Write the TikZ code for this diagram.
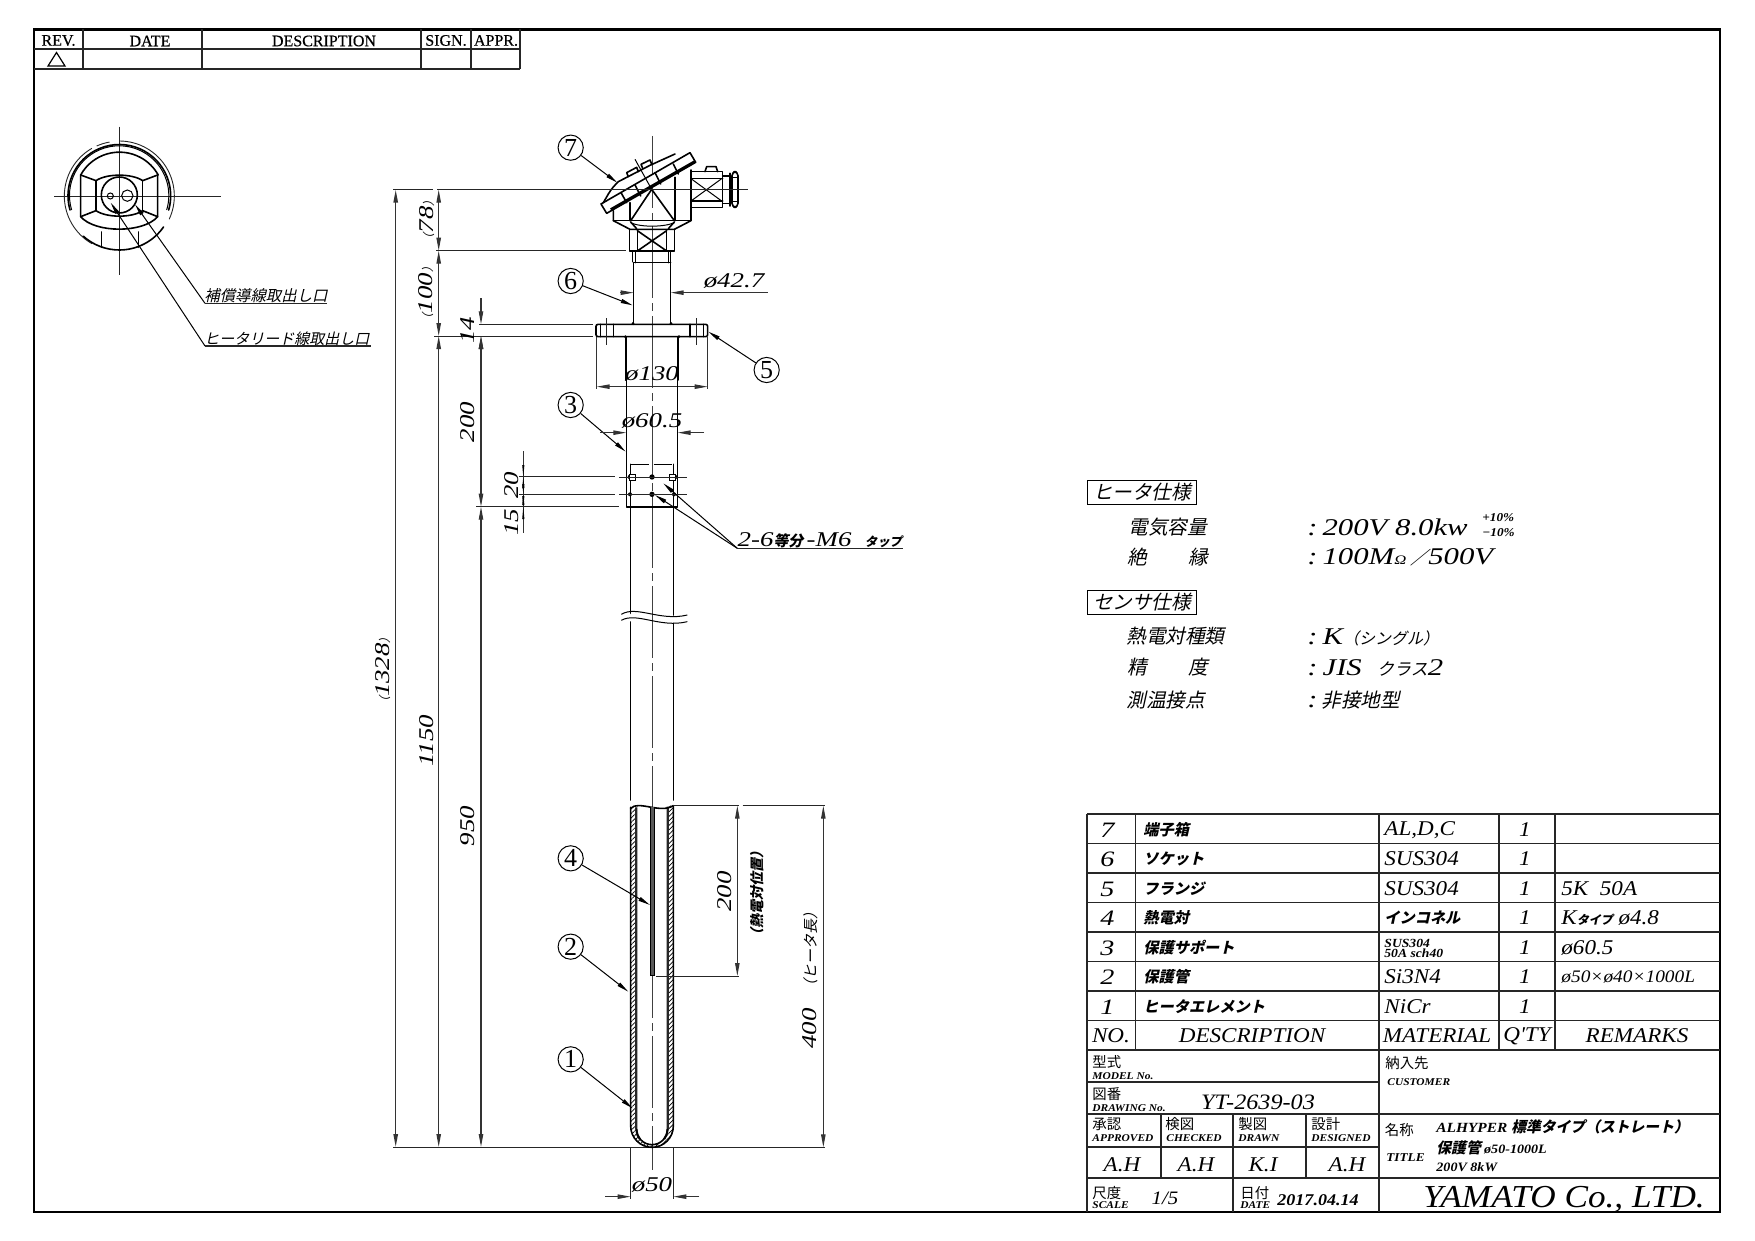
\documentclass[tikz,border=0pt]{standalone}
\usepackage{fontspec}
\usetikzlibrary{arrows.meta,patterns.meta}
\newfontfamily\lat{Liberation Serif}
\newfontfamily\latw[FakeStretch=1.28]{Liberation Serif}
\newfontfamily\latm[FakeStretch=1.1]{Liberation Serif}
\newfontfamily\latb[FakeBold=0.5]{Liberation Serif}
\newfontfamily\cjku{Noto Sans CJK JP}
\newfontfamily\cjk[FakeSlant=0.22]{Noto Sans CJK JP}
\newcommand\fs[1]{\fontsize{#1pt}{#1pt}\selectfont}
\newcommand\dimf{\latw\itshape\fs{10.5}}
\newcommand\tabf{\latm\itshape\fs{10.5}}
\newcommand\jpb{\cjk\bfseries\fs{7.6}}
\newcommand\jps{\cjk\fs{9.8}}
\newcommand\valf{\latw\itshape\fs{12}}
\newcommand\eng{\latm\itshape\bfseries\fs{5.2}}
\newcommand\ups{\cjku\fs{7.2}}
\newcommand\lp{{\cjk\fs{6}（}}
\newcommand\rp{{\cjk\fs{6}）}}
\tikzset{
  x=0.5pt,y=-0.5pt,
  tx/.style={inner sep=0pt,anchor=west},
  ct/.style={inner sep=0pt,anchor=center},
  main/.style={line width=0.8pt,line cap=round,line join=round},
  thin2/.style={line width=0.45pt,draw=black!85},
  frame2/.style={line width=1.2pt},
  grid2/.style={line width=0.9pt,draw=black!85},
  dm/.style={line width=0.55pt,draw=black!80},
  ctr/.style={line width=0.5pt,draw=black!75,dash pattern=on 36pt off 2.5pt on 4pt off 2.5pt},
  tip/.style={-{Stealth[length=6.5pt,width=2.2pt,inset=0pt]}},
  tips/.style={{Stealth[length=6.5pt,width=2.2pt,inset=0pt]}-{Stealth[length=6.5pt,width=2.2pt,inset=0pt]}},
  lead/.style={line width=0.5pt,-{Stealth[length=6pt,width=2pt,inset=0pt]}},
  circnum/.style={circle,draw,line width=0.5pt,inner sep=0pt,minimum size=12.6pt,font=\lat\fs{13}},
}
\begin{document}
\begin{tikzpicture}
\useasboundingbox (0,0) rectangle (1755,1241);
\fill[white] (0,0) rectangle (1755,1241);
% frame
\draw[frame2] (34,29.5) rectangle (1720,1212);
% revision table
\draw[grid2] (34,49) -- (520.3,49) (34,68.7) -- (520.3,68.7) (520.3,29.5) -- (520.3,68.7)
  (82.7,29.5) -- (82.7,68.7) (202.3,29.5) -- (202.3,68.7) (421,29.5) -- (421,68.7) (470.7,29.5) -- (470.7,68.7);
\draw[line width=0.6pt] (48,66) -- (65,66) -- (56.5,52.5) -- cycle;
\node[ct] (rev) at (58.5,40.5) {\latb\fs{8}REV.};
\node[ct] (date) at (150,41) {\latb\fs{8}DATE};
\node[ct] (desc) at (324,41) {\latb\fs{8}DESCRIPTION};
\node[ct] (sign) at (446,40.5) {\latb\fs{8}SIGN.};
\node[ct] (appr) at (496,40.5) {\latb\fs{8}APPR.};

% detail view
\begin{scope}[shift={(20,20)},scale=1/3]
 \draw[thin2] (298,320) -- (298,765) (102,528) -- (604,528);
 \draw[thin2] (298,363) arc[start angle=-90,end angle=25,radius=165];
 \draw[thin2] (230,378) arc[start angle=-114,end angle=-100,radius=165];
 \draw[thin2] (133,528) arc[start angle=180,end angle=240,radius=165];
 \draw[thin2] (133,528) arc[start angle=180,end angle=120,radius=165];
 \draw[main] (298,690) arc[start angle=90,end angle=132,radius=162];
 \draw[main] (298,690) arc[start angle=90,end angle=35,radius=162];
 \draw[main] (150,570) arc[start angle=164,end angle=376,radius=154];
 \draw[line width=0.5pt] (155,570) arc[start angle=163,end angle=377,radius=149];
 \draw[main] (182,465) arc[start angle=209,end angle=331,radius=133];
 \draw[main] (182,465) -- (182,590) .. controls (225,640) and (370,640) .. (413,590) -- (413,465);
 \draw[main] (182,465) -- (228,482) .. controls (260,460) and (336,460) .. (368,482) -- (413,465);
 \draw[main] (182,590) -- (228,572) .. controls (260,594) and (336,594) .. (368,572) -- (413,590);
 \draw[main] (228,482) -- (228,572) (368,482) -- (368,572);
 \draw[main] (245,636) -- (245,682) (355,636) -- (355,682);
 \draw[main] (298,525) circle[radius=54];
 \draw[line width=0.5pt] (271,528) circle[radius=9];
 \draw[line width=0.5pt] (322,527) circle[radius=17];
 \coordinate (lbA) at (555,850); \coordinate (lbB) at (920,850);
 \coordinate (lcA) at (555,978); \coordinate (lcB) at (1052,978);
 \coordinate (tipA) at (345,553); \coordinate (tipB) at (272,548);
 \draw[lead] (lbA) -- (tipA);
 \draw[lead] (lcA) -- (tipB);
 \draw[thin2,line width=0.7pt] (lbA) -- (lbB) (lcA) -- (lcB);
 \node[tx] (lblA) at (552,826) {\cjk\fs{7.7}補償導線取出し口};
 \node[tx] (lblB) at (552,955) {\cjk\fs{7.5}ヒータリード線取出し口};
\end{scope}

% centre line
\draw[ctr] (652,136) -- (652,1170);

% terminal head and upper parts (zoom coordinates)
\begin{scope}[shift={(540,120)},scale=1/3]
 % lid
 \draw[main,fill=white] (183,252) -- (450,98) -- (467,127) -- (200,280) -- cycle;
 \draw[line width=1.1pt] (212,268) -- (464,124);
 \draw[main] (205,222) .. controls (215,205) and (225,195) .. (235,185) -- (330,136) -- (405,102);
 \draw[main] (190,248) -- (205,222);
 \draw[main] (243,218) -- (260,248) (285,195) -- (302,228) (345,158) -- (362,192) (400,132) -- (415,162);
 \draw[main] (260,158) -- (290,142) -- (295,155) (260,158) -- (265,170);
 \draw[main] (303,133) -- (330,120) -- (335,132) (303,133) -- (308,145);
 \draw[line width=0.5pt] (285,118) -- (335,208);
 % body
 \draw[main] (220,272) -- (220,302) -- (270,328) -- (403,328) -- (453,302) -- (453,150);
 \draw[main] (220,302) -- (453,302);
 \draw[main] (405,172) -- (405,302) (270,248) -- (270,302);
 \draw[main] (335,208) -- (272,302) (335,208) -- (403,302);
 \draw[main] (272,306) -- (290,326) (403,306) -- (385,326);
 \draw[line width=0.5pt] (272,308) .. controls (300,322) and (372,322) .. (403,308);
 % hex socket
 \draw[main] (268,328) rectangle (404,393);
 \draw[main] (292,330) -- (292,393) (380,330) -- (380,393);
 \draw[main] (292,332) -- (380,393) (380,332) -- (292,393);
 \draw[main] (278,393) -- (278,425) (392,393) -- (392,425) (286,393) -- (286,428) (386,393) -- (386,428);
 \draw[main] (281,428) -- (392,428);
 \draw[main] (281,428) -- (281,613) (392,428) -- (392,613);
 \fill (279,610) circle[radius=4.5] (393,610) circle[radius=4.5] (256,650) circle[radius=4.5] (417,650) circle[radius=4.5];
 % flange
 \draw[main,rounded corners=1pt] (168,613) rectangle (503,650);
 \draw[main] (181,613) -- (181,650) (220,613) -- (220,650) (450,613) -- (450,650) (490,613) -- (490,650);
 \draw[thin2] (200,595) -- (200,676) (470,595) -- (470,676);
 % conduit
 \draw[main] (453,155) -- (548,155) -- (548,262) -- (453,262);
 \draw[main] (453,175) -- (548,175) (453,243) -- (548,243);
 \draw[line width=0.5pt] (453,176) -- (545,243) (453,243) -- (545,176);
 \draw[main] (495,155) -- (500,140) -- (528,140) -- (533,155);
 \draw[main] (548,168) -- (568,168) -- (568,250) -- (548,250);
 \draw[main] (570,160) -- (570,258);
 \draw[main,rounded corners=2pt] (576,155) -- (594,155) -- (594,262) -- (576,262) -- cycle;
 \draw[main] (576,172) -- (594,172) (576,245) -- (594,245);
 \draw[thin2] (456,208) -- (623,208);
 % dimensions
 \coordinate (d42a) at (281,518); \coordinate (d42b) at (240,518);
 \coordinate (d42c) at (392,518); \coordinate (d42d) at (683,518);
 \draw[dm,tip] (d42b) -- (d42a); \draw[dm,tip] (d42d) -- (d42c);
 \node[ct] (t42) at (582,483) {\dimf ø42.7};
 \draw[dm] (170,650) -- (170,808) (503,650) -- (503,808);
 \draw[dm,tips] (170,800) -- (503,800);
 \node[ct] (t130) at (336,762) {\dimf ø130};
 % balloons
 \node[circnum] (c7) at (92,83) {7};
 \node[circnum] (c6) at (92,483) {6};
 \node[circnum] (c5) at (680,750) {5};
 \coordinate (p7) at (232,188); \coordinate (p6) at (278,556); \coordinate (p5) at (505,635);
 \draw[lead] (c7) -- (p7); \draw[lead] (c6) -- (p6); \draw[lead] (c5) -- (p5);
 % support tube
 \draw[main] (258,650) -- (258,780) (414,650) -- (414,780);
\end{scope}

% extension lines
\draw[thin2] (393,189.7) -- (433,189.7) (437,189.7) -- (700,189.7);
\draw[thin2] (436,250.7) -- (626,250.7);
\draw[thin2] (479,324.3) -- (593,324.3);
\draw[thin2] (434,336) -- (593,336);
\draw[thin2] (393,1147) -- (825,1147);

% support and tube
\begin{scope}[shift={(520,380)},scale=1/3]
 \draw[main] (319,0) -- (319,381) -- (473,381) -- (473,0);
 \draw[line width=0.8pt,dash pattern=on 9pt off 2.5pt] (332,253) -- (460,253);
 \draw[main] (332,253) -- (332,700) (460,253) -- (460,705);
 \draw[main] (332,726) -- (332,1260) (460,730) -- (460,1260);
 \draw[line width=0.5pt] (304,703) .. controls (350,675) and (420,725) .. (502,705);
 \draw[line width=0.5pt] (304,721) .. controls (350,695) and (420,745) .. (502,725);
 \fill (396,291) circle[radius=8] (396,343) circle[radius=8] (330,291) circle[radius=7] (465,291) circle[radius=7] (330,343) circle[radius=6] (462,343) circle[radius=6];
 \draw[line width=0.5pt,fill=white] (328,282) rectangle (346,300) (448,282) rectangle (466,300);
 \draw[thin2] (298,291) -- (500,291) (298,343) -- (500,343);
 % leaders
 \coordinate (tapA) at (652,505); \coordinate (tapB) at (1150,505);
 \coordinate (p1a) at (430,310); \coordinate (p1b) at (405,345);
 \draw[lead] (tapA) -- (p1a); \draw[lead] (tapA) -- (p1b);
 \draw[thin2,line width=0.7pt] (tapA) -- (tapB);
 \node[tx] (tap) at (652,482) {\latw\itshape\fs{10.5}2-6\cjk\bfseries\fs{7.4}等分\latw\itshape\mdseries\fs{10.5}\,-M6\ \ \cjk\bfseries\fs{6.2}タップ};
 % balloon 3 and dimension
 \node[circnum] (c3) at (152,75) {3};
 \coordinate (p3) at (317,215);
 \draw[lead] (c3) -- (p3);
 \coordinate (d60a) at (319,158); \coordinate (d60b) at (240,158);
 \coordinate (d60c) at (473,158); \coordinate (d60d) at (552,158);
 \draw[dm,tip] (d60b) -- (d60a); \draw[dm,tip] (d60d) -- (d60c);
 \node[ct] (t60) at (396,122) {\dimf ø60.5};
\end{scope}
\draw[thin2] (476,506.7) -- (619,506.7);
\draw[thin2] (519,476.7) -- (615,476.7) ;
\draw[thin2] (519,494) -- (615,494);

% lower tube
\begin{scope}[shift={(540,790)},scale=1/3]
 \path[pattern={Lines[angle=45,distance=1.6pt,line width=0.35pt]}]
   (272,52) -- (272,1008) arc[start angle=180,end angle=0,radius=64] -- (400,47) -- (382,47) -- (382,1018)
   arc[start angle=0,end angle=180,radius=46] -- (290,50) -- cycle;
 \draw[main] (272,52) -- (272,1008) arc[start angle=180,end angle=0,radius=64] -- (400,47);
 \draw[line width=1.1pt,draw=black!85] (289,52) -- (289,1018) arc[start angle=180,end angle=140,radius=46];
 \draw[line width=1.1pt,draw=black!85] (383,50) -- (383,1018) arc[start angle=0,end angle=40,radius=46];
 \draw[main] (290,1018) arc[start angle=180,end angle=0,radius=46];
 \draw[main] (272,55) .. controls (295,30) and (360,72) .. (400,47);
 \fill[black!65] (331,50) rectangle (342,557);
 \draw[line width=0.5pt] (331,50) -- (331,557) -- (342,557) -- (342,50);
 % extension
 \draw[thin2] (400,47) -- (598,47) (608,47) -- (855,47);
 \draw[thin2] (348,558) -- (598,558);
 \draw[dm,tips] (592,47) -- (592,558);
 \draw[dm,tips] (850,47) -- (850,1072);
 \node[ct,rotate=90] (t200b) at (553,305) {\dimf 200};
 \node[ct,rotate=90] (tpos) at (652,310) {\cjk\bfseries\fs{7}（熱電対位置）};
 \node[ct,rotate=90] (t400) at (810,560) {\dimf 400\ \ \cjk\fs{7.5}（ヒータ長）};
 % phi 50
 \draw[thin2] (272,1072) -- (272,1228) (400,1072) -- (400,1228);
 \coordinate (d50a) at (272,1220); \coordinate (d50b) at (195,1220);
 \coordinate (d50c) at (400,1220); \coordinate (d50d) at (478,1220);
 \draw[dm,tip] (d50b) -- (d50a); \draw[dm,tip] (d50d) -- (d50c);
 \node[ct] (t50) at (336,1185) {\dimf ø50};
 % balloons
 \node[circnum] (c4) at (92,205) {4};
 \node[circnum] (c2) at (92,470) {2};
 \node[circnum] (c1) at (92,808) {1};
 \coordinate (p4) at (330,345); \coordinate (p2) at (265,605); \coordinate (p1) at (278,955);
 \draw[lead] (c4) -- (p4); \draw[lead] (c2) -- (p2); \draw[lead] (c1) -- (p1);
\end{scope}

% left dimensions
\draw[dm,line width=0.7pt,tips] (395.7,189.7) -- (395.7,1147);
\draw[dm,tips] (438.7,189.7) -- (438.7,250.7);
\draw[dm,tips] (438.7,250.7) -- (438.7,336);
\draw[dm,tips] (438.7,336) -- (438.7,1147);
\draw[dm,tip] (481,298) -- (481,324.3);
\draw[dm,tip] (481,364) -- (481,336);
\draw[dm,tips] (481,336) -- (481,506.7);
\draw[dm,tips] (481,506.7) -- (481,1147);
\draw[dm] (523.3,451) -- (523.3,533);
\fill (523.3,476.7) -- (522.2,465) -- (524.4,465) -- cycle;
\fill (523.3,476.7) -- (522.2,488) -- (524.4,488) -- cycle;
\fill (523.3,494) -- (522.2,484) -- (524.4,484) -- cycle;
\fill (523.3,494) -- (522.2,505) -- (524.4,505) -- cycle;
\fill (523.3,506.7) -- (522.2,496) -- (524.4,496) -- cycle;
\fill (523.3,506.7) -- (522.2,519) -- (524.4,519) -- cycle;
\node[ct,rotate=90] (t78) at (426.7,220) {\lp\dimf 78\rp};
\node[ct,rotate=90] (t100) at (426,293) {\lp\dimf 100\rp};
\node[ct,rotate=90] (t14) at (468,330) {\dimf 14};
\node[ct,rotate=90] (t200) at (468,422) {\dimf 200};
\node[ct,rotate=90] (t20) at (511.7,485) {\dimf 20};
\node[ct,rotate=90] (t15) at (511.7,522) {\dimf 15};
\node[ct,rotate=90] (t950) at (468,826) {\dimf 950};
\node[ct,rotate=90] (t1150) at (427,741) {\dimf 1150};
\node[ct,rotate=90] (t1328) at (383,670) {\lp\dimf 1328\rp};

% heater spec
\node[draw,line width=0.5pt,minimum width=54.7pt,minimum height=11.8pt,inner sep=0pt] (hs) at (1142,492.5) {\jps ヒータ仕様};
\node[tx] (s1) at (1128,527) {\jps 電気容量};
\node[tx] (s2a) at (1127,557) {\jps 絶};
\node[tx] (s2b) at (1188,557) {\jps 縁};
\node[tx] (v1) at (1307,527) {\valf :\kern2.5pt 200V 8.0kw};
\node[tx] (v1a) at (1482,518) {\latm\itshape\bfseries\fs{6}+10\%};
\node[tx] (v1b) at (1482,533) {\latm\itshape\bfseries\fs{6}−10\%};
\node[tx] (v2) at (1307,557) {\valf :\kern2.5pt 100M{\fs{6.5}Ω}\,\cjk\fs{9}／\valf 500V};
\node[draw,line width=0.5pt,minimum width=54.7pt,minimum height=11.8pt,inner sep=0pt] (ss) at (1142,602.5) {\jps センサ仕様};
\node[tx] (s3) at (1126,636) {\jps 熱電対種類};
\node[tx] (s4a) at (1127,667) {\jps 精};
\node[tx] (s4b) at (1188,667) {\jps 度};
\node[tx] (s5) at (1126,700) {\jps 測温接点};
\node[tx] (v3) at (1307,637) {\valf :\kern2.5pt K\cjk\fs{8}（シングル）};
\node[tx] (v4) at (1307,668) {\valf :\kern2.5pt JIS\ \ \cjk\fs{8.5}クラス\valf 2};
\node[tx] (v5) at (1307,700) {\valf :\,\jps 非接地型};

% parts table
\draw[grid2] \foreach \yy in {814,843.5,873,902.5,932,961.5,991,1020.5,1050} {(1087,\yy) -- (1720,\yy)};
\draw[grid2] (1087,814) -- (1087,1212) (1135.5,814) -- (1135.5,1050) (1379,814) -- (1379,1212) (1499,814) -- (1499,1050) (1555,814) -- (1555,1050);
\foreach \n/\yy/\dd in {7/830/端子箱, 6/859/ソケット, 5/889/フランジ, 4/918/熱電対, 3/948/保護サポート, 2/977/保護管, 1/1007/ヒータエレメント}{
 \node[ct] (no\n) at (1107.5,\yy) {\latw\itshape\fs{11}\n};
 \node[tx] (de\n) at (1143,\yy) {\jpb \dd};
 \node[ct] (qt\n) at (1525,\yy) {\tabf 1};
}
\node[tx] (ma7) at (1384,830) {\tabf AL,D,C};
\node[tx] (ma6) at (1384,859) {\tabf SUS304};
\node[tx] (ma5) at (1384,889) {\tabf SUS304};
\node[tx] (re5) at (1561,889) {\tabf 5K\ \ 50A};
\node[tx] (ma4) at (1384,918) {\jpb インコネル};
\node[tx] (re4) at (1561,918) {\tabf K{\cjk\bfseries\fs{6}タイプ}\ ø4.8};
\node[tx] (ma3a) at (1384,943) {\latm\itshape\bfseries\fs{6.2}SUS304};
\node[tx] (ma3b) at (1384,953) {\latm\itshape\bfseries\fs{6.2}50A sch40};
\node[tx] (re3) at (1561,948) {\tabf ø60.5};
\node[tx] (ma2) at (1384,977) {\tabf Si3N4};
\node[tx] (re2) at (1561,977) {\latm\itshape\fs{8.8}ø50×ø40×1000L};
\node[tx] (ma1) at (1384,1007) {\tabf NiCr};
\node[ct] (hno) at (1111,1036) {\tabf NO.};
\node[ct] (hde) at (1252,1036) {\tabf DESCRIPTION};
\node[ct] (hma) at (1437,1036) {\tabf MATERIAL};
\node[ct] (hqt) at (1527,1036) {\tabf Q'TY};
\node[ct] (hre) at (1637,1036) {\tabf REMARKS};

% title block
\draw[grid2] (1087,1082) -- (1379,1082) (1087,1114) -- (1720,1114) (1087,1147) -- (1379,1147) (1087,1178) -- (1720,1178);
\draw[grid2] (1161,1114) -- (1161,1178) (1233,1114) -- (1233,1212) (1306,1114) -- (1306,1178);
\node[tx] (m1) at (1092,1062) {\ups 型式};
\node[tx] (m2) at (1092,1076) {\eng MODEL No.};
\node[tx] (d1) at (1092,1094) {\ups 図番};
\node[tx] (d2) at (1092,1108) {\eng DRAWING No.};
\node[ct] (dn) at (1258,1102) {\latm\itshape\fs{11}YT-2639-03};
\node[tx] (cu1) at (1385,1063) {\ups 納入先};
\node[tx] (cu2) at (1387,1082) {\eng CUSTOMER};
\node[tx] (ap1) at (1092,1124) {\ups 承認};
\node[tx] (ap2) at (1092,1138) {\eng APPROVED};
\node[tx] (ch1) at (1165,1124) {\ups 検図};
\node[tx] (ch2) at (1166,1138) {\eng CHECKED};
\node[tx] (dr1) at (1238,1124) {\ups 製図};
\node[tx] (dr2) at (1238,1138) {\eng DRAWN};
\node[tx] (de1x) at (1311,1124) {\ups 設計};
\node[tx] (de0) at (1311,1138) {\eng DESIGNED};
\node[ct] (s01) at (1122,1165) {\tabf A.H};
\node[ct] (s02) at (1196,1165) {\tabf A.H};
\node[ct] (s03) at (1263,1165) {\tabf K.I};
\node[ct] (s04) at (1347,1165) {\tabf A.H};
\node[tx] (sc1) at (1092,1193) {\ups 尺度};
\node[tx] (sc2) at (1092,1205) {\eng SCALE};
\node[ct] (sc3) at (1165,1198) {\latm\itshape\fs{9.5}1/5};
\node[tx] (da1) at (1240,1193) {\ups 日付};
\node[tx] (da2) at (1240,1205) {\eng DATE};
\node[ct] (da3) at (1318,1200) {\latm\itshape\bfseries\fs{8.2}2017.04.14};
\node[tx] (ti1) at (1384.5,1130) {\ups 名称};
\node[tx] (ti2) at (1386,1158) {\latm\itshape\bfseries\fs{6}TITLE};
\node[tx] (ti3) at (1436,1127) {\latm\itshape\bfseries\fs{7}ALHYPER\ \cjk\bfseries\fs{7.4}標準タイプ（ストレート）};
\node[tx] (ti4) at (1436,1148) {\cjk\bfseries\fs{7.4}保護管\ \latm\itshape\bfseries\fs{6.4}ø50-1000L};
\node[tx] (ti5) at (1436,1167) {\latm\itshape\bfseries\fs{6.4}200V 8kW};
\node[ct] (ya) at (1564,1199) {\latm\itshape\fs{16}YAMATO Co., LTD.};
\end{tikzpicture}
\end{document}
